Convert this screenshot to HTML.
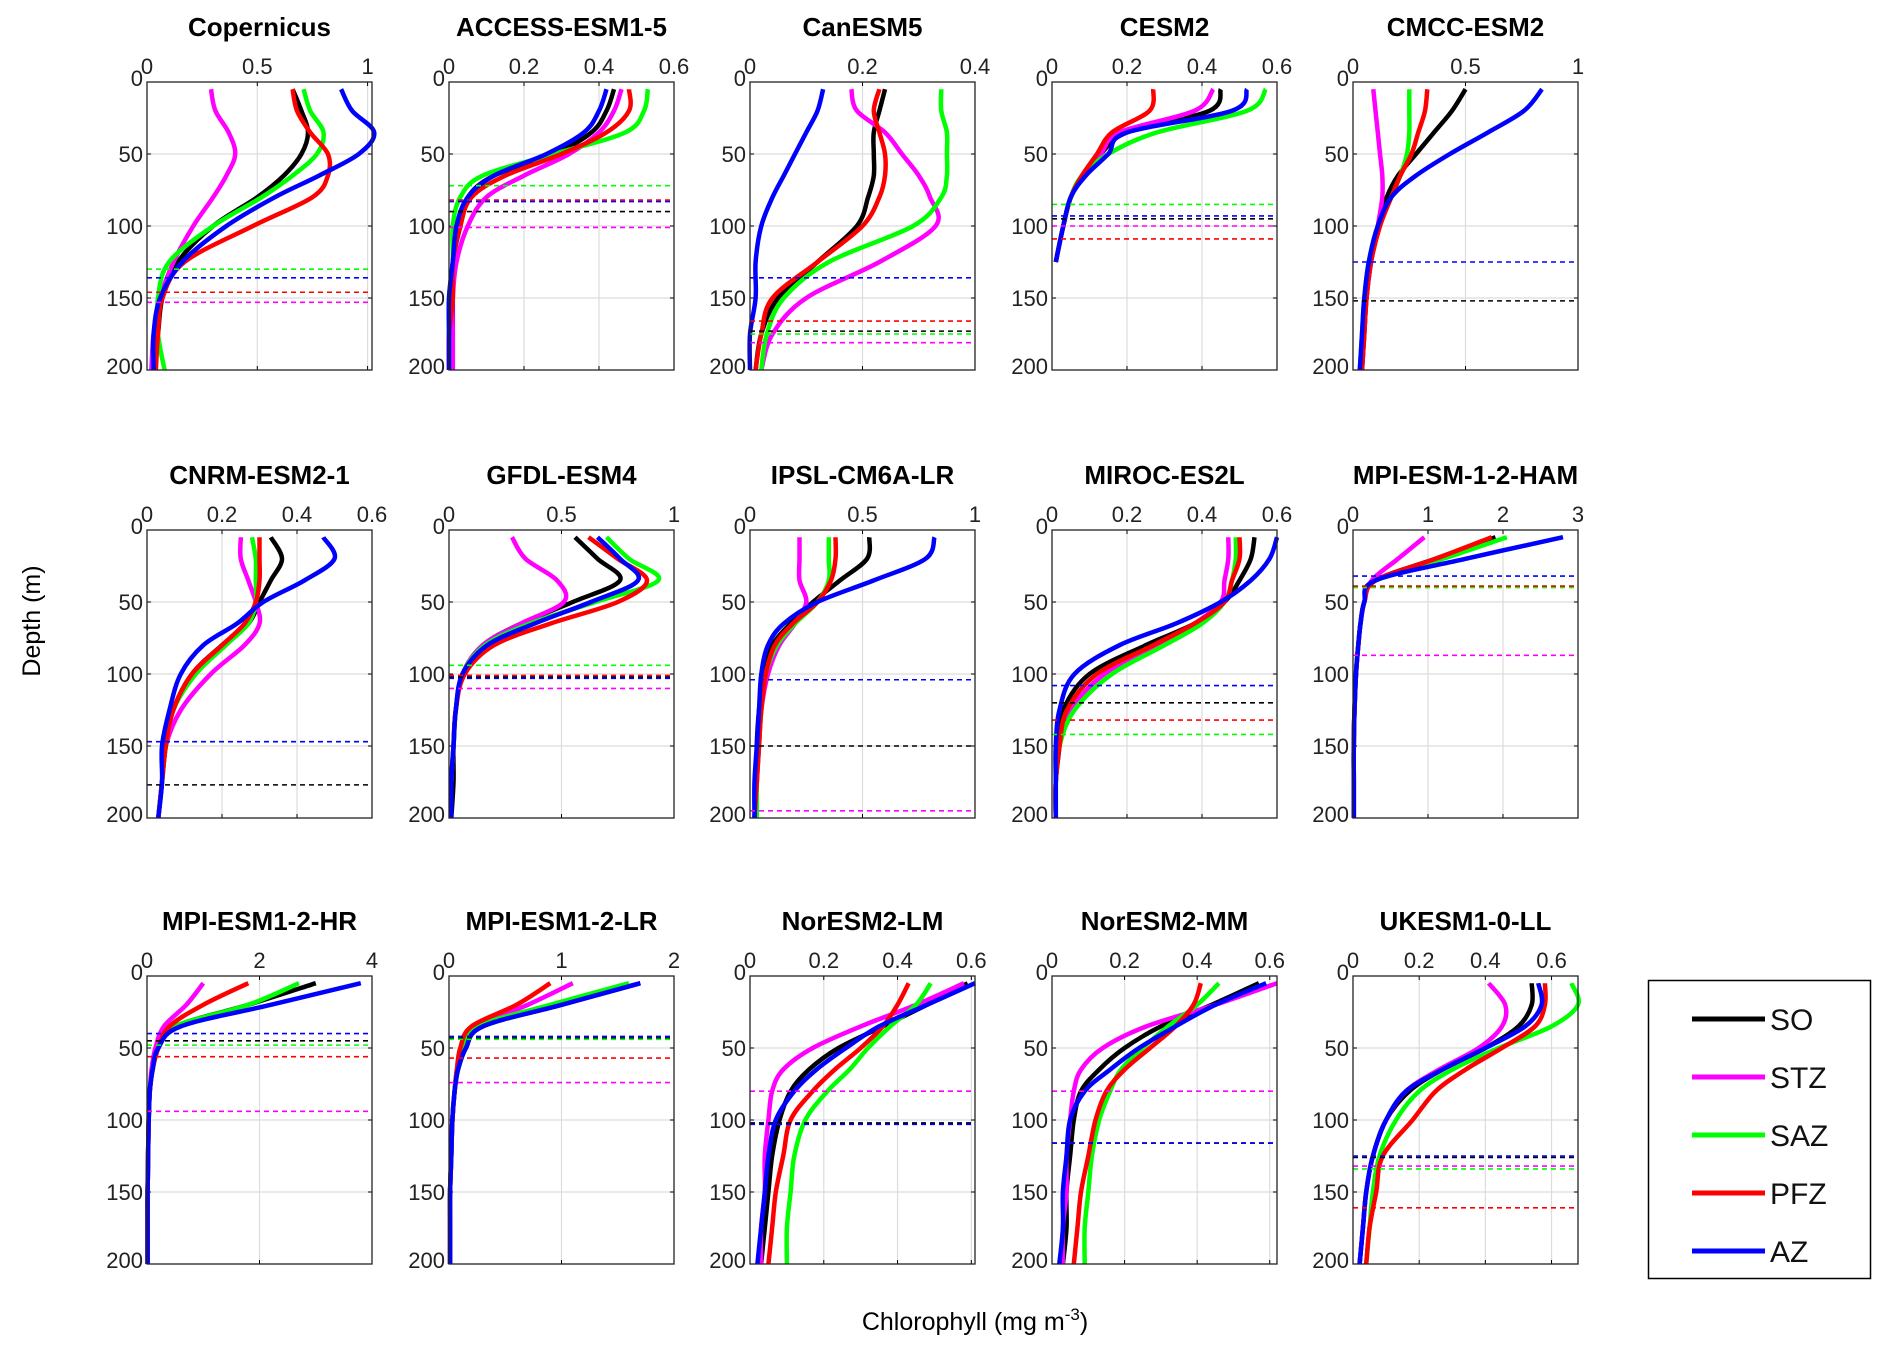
<!DOCTYPE html>
<html><head><meta charset="utf-8"><style>
body{margin:0;background:#fff;width:1892px;height:1357px;overflow:hidden;font-family:"Liberation Sans",Arial,sans-serif}
svg{display:block}
</style></head><body>
<svg id="fig" width="1892" height="1357" xmlns="http://www.w3.org/2000/svg">
<text x="975" y="1330" font-size="25" text-anchor="middle">Chlorophyll (mg m<tspan dy="-10" font-size="17">-3</tspan><tspan dy="10">)</tspan></text>
<text x="0" y="0" font-size="25" text-anchor="middle" transform="translate(40,621) rotate(-90)">Depth (m)</text>
<g>
<rect x="1648.5" y="980.5" width="222" height="298" fill="#fff" stroke="#000" stroke-width="1.5"/>
</g>
</svg>
<script>
const depths=[5,20,35,50,65,80,100,125,150,175,200];
const seriesNames=["SO","STZ","SAZ","PFZ","AZ"];
const seriesColors=["#000000","#ff00ff","#00ff00","#ff0000","#0000ff"];
const panelTitles=["Copernicus","ACCESS-ESM1-5","CanESM5","CESM2","CMCC-ESM2","CNRM-ESM2-1","GFDL-ESM4","IPSL-CM6A-LR","MIROC-ES2L","MPI-ESM-1-2-HAM","MPI-ESM1-2-HR","MPI-ESM1-2-LR","NorESM2-LM","NorESM2-MM","UKESM1-0-LL"];
const xMax=[1.02,0.6,0.4,0.6,1,0.6,1,1,0.6,3,4,2,0.61,0.62,0.68];
const xTicks=[[0,0.5,1],[0,0.2,0.4,0.6],[0,0.2,0.4],[0,0.2,0.4,0.6],[0,0.5,1],[0,0.2,0.4,0.6],[0,0.5,1],[0,0.5,1],[0,0.2,0.4,0.6],[0,1,2,3],[0,2,4],[0,1,2],[0,0.2,0.4,0.6],[0,0.2,0.4,0.6],[0,0.2,0.4,0.6]];
const yTicks=[0,50,100,150,200];
const N=null;
const copernicus=[[0.66,0.70,0.73,0.70,0.62,0.50,0.30,0.14,0.07,0.05,0.03],[0.29,0.31,0.37,0.40,0.36,0.30,0.21,0.12,0.06,0.03,0.02],[0.71,0.74,0.80,0.77,0.66,0.52,0.30,0.10,0.05,0.05,0.08],[0.66,0.68,0.74,0.82,0.82,0.75,0.48,0.17,0.07,0.05,0.04],[0.88,0.93,1.03,0.96,0.78,0.58,0.36,0.16,0.06,0.03,0.03]];
const access=[[0.44,0.42,0.38,0.28,0.12,0.05,0.03,0.01,0.01,0.01,0.01],[0.46,0.44,0.40,0.32,0.20,0.10,0.05,0.02,0.01,0.01,0.01],[0.53,0.52,0.47,0.28,0.09,0.03,0.01,0.01,0,0,0],[0.48,0.48,0.42,0.30,0.15,0.06,0.03,0.01,0.01,0,0],[0.42,0.40,0.36,0.26,0.12,0.05,0.02,0.01,0,0,0]];
const canesm=[[0.24,0.23,0.22,0.22,0.22,0.21,0.19,0.12,0.05,0.02,0.01],[0.18,0.19,0.24,0.27,0.30,0.32,0.33,0.23,0.10,0.04,0.02],[0.34,0.34,0.35,0.35,0.35,0.34,0.29,0.14,0.06,0.03,0.02],[0.23,0.22,0.23,0.24,0.24,0.23,0.20,0.12,0.04,0.02,0.01],[0.13,0.12,0.10,0.08,0.06,0.04,0.02,0.01,0.01,0,0]];
const cesm=[[0.45,0.42,0.20,0.13,0.08,0.05,0.03,0.01,N,N,N],[0.43,0.38,0.18,0.13,0.08,0.05,0.03,0.01,N,N,N],[0.57,0.52,0.28,0.15,0.08,0.05,0.03,0.01,N,N,N],[0.27,0.26,0.16,0.12,0.08,0.05,0.03,0.01,N,N,N],[0.52,0.48,0.20,0.15,0.09,0.05,0.03,0.01,N,N,N]];
const cmcc=[[0.50,0.44,0.36,0.28,0.20,0.15,0.11,0.08,0.06,0.05,0.04],[0.09,0.10,0.11,0.12,0.13,0.13,0.11,0.08,0.06,0.05,0.04],[0.25,0.25,0.25,0.24,0.21,0.17,0.11,0.07,0.05,0.04,0.03],[0.33,0.32,0.29,0.26,0.21,0.17,0.12,0.08,0.06,0.05,0.04],[0.84,0.76,0.60,0.43,0.28,0.17,0.11,0.07,0.05,0.04,0.03]];
const cnrm=[[0.33,0.36,0.33,0.30,0.27,0.20,0.12,0.07,0.05,0.04,0.03],[0.25,0.25,0.27,0.29,0.30,0.26,0.17,0.09,0.05,0.04,0.03],[0.28,0.29,0.29,0.29,0.27,0.21,0.13,0.07,0.05,0.04,0.03],[0.30,0.30,0.30,0.29,0.26,0.20,0.12,0.07,0.05,0.04,0.03],[0.47,0.50,0.42,0.31,0.24,0.15,0.09,0.06,0.04,0.04,0.03]];
const gfdl=[[0.56,0.66,0.76,0.55,0.32,0.15,0.06,0.03,0.02,0.02,0.01],[0.28,0.34,0.48,0.51,0.32,0.15,0.06,0.03,0.02,0.01,0.01],[0.70,0.80,0.93,0.65,0.36,0.16,0.06,0.03,0.02,0.01,0.01],[0.62,0.75,0.88,0.75,0.45,0.20,0.07,0.03,0.02,0.01,0.01],[0.66,0.76,0.84,0.63,0.38,0.17,0.06,0.03,0.02,0.01,0.01]];
const ipsl=[[0.53,0.52,0.40,0.28,0.18,0.10,0.06,0.04,0.03,0.03,0.02],[0.22,0.22,0.22,0.25,0.20,0.13,0.08,0.05,0.04,0.03,0.02],[0.35,0.35,0.35,0.30,0.20,0.12,0.07,0.05,0.04,0.03,0.03],[0.38,0.38,0.36,0.30,0.19,0.11,0.07,0.05,0.04,0.03,0.02],[0.82,0.78,0.55,0.30,0.15,0.08,0.05,0.04,0.03,0.02,0.02]];
const miroc=[[0.54,0.53,0.50,0.46,0.38,0.25,0.10,0.03,0.02,0.01,0.01],[0.47,0.47,0.46,0.45,0.38,0.28,0.14,0.05,0.02,0.01,0.01],[0.49,0.49,0.48,0.46,0.40,0.30,0.16,0.06,0.02,0.01,0.01],[0.50,0.50,0.48,0.46,0.38,0.27,0.12,0.04,0.02,0.01,0.01],[0.60,0.58,0.53,0.45,0.33,0.18,0.06,0.02,0.01,0.01,0.01]];
const mpiham=[[1.9,1.1,0.3,0.15,0.1,0.07,0.04,0.02,0.01,0.01,0.01],[0.95,0.6,0.25,0.15,0.1,0.07,0.04,0.02,0.01,0.01,0.01],[2.05,1.2,0.3,0.15,0.1,0.07,0.04,0.02,0.01,0.01,0.01],[1.85,1.1,0.3,0.15,0.1,0.07,0.04,0.02,0.01,0.01,0.01],[2.8,1.5,0.3,0.15,0.1,0.07,0.04,0.02,0.01,0.01,0.01]];
const mpihr=[[3.0,1.8,0.5,0.2,0.1,0.05,0.03,0.02,0.01,0.01,0.01],[1.0,0.7,0.3,0.15,0.08,0.05,0.03,0.02,0.01,0.01,0.01],[2.7,1.8,0.5,0.2,0.1,0.05,0.03,0.02,0.01,0.01,0.01],[1.8,1.0,0.4,0.2,0.1,0.05,0.03,0.02,0.01,0.01,0.01],[3.8,2.2,0.6,0.2,0.1,0.05,0.03,0.02,0.01,0.01,0.01]];
const mpilr=[[1.7,1.0,0.3,0.15,0.08,0.05,0.03,0.02,0.01,0.01,0.01],[1.1,0.7,0.25,0.12,0.07,0.05,0.03,0.02,0.01,0.01,0.01],[1.6,0.9,0.25,0.12,0.07,0.05,0.03,0.02,0.01,0.01,0.01],[0.9,0.6,0.2,0.1,0.07,0.05,0.03,0.02,0.01,0.01,0.01],[1.7,1.0,0.3,0.15,0.08,0.05,0.03,0.02,0.01,0.01,0.01]];
const norlm=[[0.59,0.48,0.36,0.24,0.16,0.11,0.08,0.06,0.05,0.04,0.03],[0.58,0.45,0.30,0.17,0.09,0.06,0.05,0.04,0.04,0.03,0.03],[0.49,0.45,0.38,0.32,0.27,0.21,0.15,0.12,0.11,0.10,0.10],[0.43,0.40,0.36,0.30,0.23,0.17,0.11,0.09,0.07,0.06,0.05],[0.61,0.48,0.35,0.26,0.18,0.12,0.07,0.05,0.04,0.03,0.02]];
const normm=[[0.57,0.44,0.30,0.20,0.13,0.08,0.06,0.05,0.04,0.04,0.03],[0.62,0.45,0.26,0.14,0.08,0.06,0.05,0.04,0.04,0.03,0.03],[0.46,0.40,0.32,0.25,0.19,0.16,0.13,0.11,0.10,0.09,0.09],[0.41,0.39,0.34,0.27,0.20,0.15,0.12,0.10,0.08,0.07,0.06],[0.59,0.45,0.34,0.24,0.16,0.09,0.05,0.04,0.03,0.03,0.02]];
const ukesm=[[0.54,0.54,0.50,0.40,0.27,0.17,0.10,0.06,0.04,0.03,0.02],[0.41,0.46,0.45,0.38,0.26,0.16,0.10,0.06,0.04,0.03,0.02],[0.66,0.68,0.60,0.44,0.30,0.20,0.13,0.08,0.06,0.05,0.04],[0.58,0.58,0.55,0.45,0.34,0.25,0.18,0.09,0.07,0.05,0.04],[0.56,0.57,0.52,0.40,0.27,0.16,0.10,0.06,0.04,0.03,0.02]];
const panelValues=[copernicus,access,canesm,cesm,cmcc,cnrm,gfdl,ipsl,miroc,mpiham,mpihr,mpilr,norlm,normm,ukesm];
const mixedLayerDepth=[[146,153,130,146,136],[90,101,72,82,83],[173,181,175,166,136],[95,100,85,109,93],[152,N,N,N,125],[177,N,N,N,147],[102,110,94,101,103],[150,195,N,N,104],[120,N,142,132,108],[39,87,40,39,32],[45,94,48,56,40],[43,74,44,57,42],[102,80,N,N,103],[116,80,N,N,116],[126,132,134,161,125]];

const NS="http://www.w3.org/2000/svg";
const svg=document.getElementById('fig');
const colX=[147,449,750,1052,1353], rowY=[82,530,976], PW=225, PH=288;
function mk(tag,attrs,parent){const e=document.createElementNS(NS,tag);for(const k in attrs)e.setAttribute(k,attrs[k]);(parent||svg).appendChild(e);return e;}
function slug(s){return s.toLowerCase().replace(/[^a-z0-9]+/g,'-');}
function smoothPath(pts){
  let d=`M${pts[0][0].toFixed(1)},${pts[0][1].toFixed(1)}`;
  for(let i=0;i<pts.length-1;i++){
    const p0=pts[Math.max(0,i-1)],p1=pts[i],p2=pts[i+1],p3=pts[Math.min(pts.length-1,i+2)];
    const c1=[p1[0]+(p2[0]-p0[0])/6,p1[1]+(p2[1]-p0[1])/6],c2=[p2[0]-(p3[0]-p1[0])/6,p2[1]-(p3[1]-p1[1])/6];
    d+=` C${c1[0].toFixed(1)},${c1[1].toFixed(1)} ${c2[0].toFixed(1)},${c2[1].toFixed(1)} ${p2[0].toFixed(1)},${p2[1].toFixed(1)}`;
  }
  return d;
}
panelTitles.forEach((title,p)=>{
  const L=colX[p%5],T=rowY[Math.floor(p/5)];
  const xs=v=>L+v/xMax[p]*PW, ys=d=>T+d/200*PH;
  const g=mk('g',{});
  
  
  const tt=mk('text',{x:L+PW/2,y:T-46,'font-size':26,'font-weight':'bold','text-anchor':'middle'},g);
  
  
  tt.textContent=title;
  xTicks[p].forEach(v=>{
    const x=xs(v);
    if(v>0&&v<xMax[p]-1e-9){const gl=mk('line',{x1:x,x2:x,y1:T,y2:T+PH,stroke:'#dcdcdc','stroke-width':1.2},g);}
    mk('line',{x1:x,x2:x,y1:T,y2:T+4,stroke:'#000','stroke-width':1},g);
    mk('line',{x1:x,x2:x,y1:T+PH,y2:T+PH-4,stroke:'#000','stroke-width':1},g);
    const t=mk('text',{x:x,y:T-8,'font-size':22,'text-anchor':'middle',fill:'#222'},g);
    
    
    t.textContent=String(v);
  });
  yTicks.forEach(v=>{
    const y=ys(v);
    if(v>0&&v<200){const gl=mk('line',{x1:L,x2:L+PW,y1:y,y2:y,stroke:'#dcdcdc','stroke-width':1.2},g);}
    mk('line',{x1:L,x2:L+4,y1:y,y2:y,stroke:'#000','stroke-width':1},g);
    mk('line',{x1:L+PW,x2:L+PW-4,y1:y,y2:y,stroke:'#000','stroke-width':1},g);
    const t=mk('text',{x:L-4,y:y+(v===0?4:v===200?4:8),'font-size':22,'text-anchor':'end',fill:'#222'},g);
    
    
    t.textContent=String(v);
  });
  panelValues[p].forEach((vals,s)=>{
    const pts=[];vals.forEach((v,i)=>{if(v!==null)pts.push([xs(v),ys(depths[i])]);});
    const path=mk('path',{d:smoothPath(pts),fill:'none',stroke:seriesColors[s],'stroke-width':4.5,'stroke-linejoin':'round','stroke-linecap':'butt'},g);
    
    
  });
  mixedLayerDepth[p].forEach((m,s)=>{
    if(m===null)return;
    const ln=mk('line',{x1:L,x2:L+PW,y1:ys(m),y2:ys(m),stroke:seriesColors[s],'stroke-width':1.6,'stroke-dasharray':'5,4'},g);
    
    
  });
  const box=mk('rect',{x:L,y:T,width:PW,height:PH,fill:'none',stroke:'#222','stroke-width':1.3},g);
  
  
});
seriesNames.forEach((n,i)=>{
  const y=1019+i*58;
  const l=mk('line',{x1:1692,x2:1765,y1:y,y2:y,stroke:seriesColors[i],'stroke-width':5});
  
  
  const t=mk('text',{x:1770,y:y+11,'font-size':30,fill:'#111'});
  
  
  t.textContent=n;
});
</script>
</body></html>
